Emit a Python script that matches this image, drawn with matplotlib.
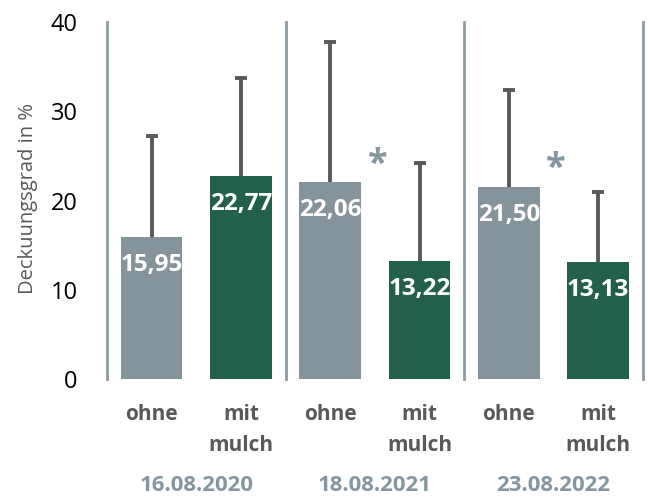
import matplotlib
matplotlib.use("Agg")
import matplotlib.pyplot as plt
import numpy as np

# Data
dates = ["16.08.2020", "18.08.2021", "23.08.2022"]
treatments = ["ohne", "mit\nmulch"]
means = [15.95, 22.77, 22.06, 13.22, 21.50, 13.13]
upper_err = [11.25, 11.0, 15.7, 11.0, 10.9, 7.8]
value_labels = ["15,95", "22,77", "22,06", "13,22", "21,50", "13,13"]
sig_groups = [1, 2]          # groups with significance asterisk
sig_y = [24.0, 23.5]

plt.rcParams['font.family'] = ['Open Sans', 'DejaVu Sans']

GRAY = "#85939a"
GREEN = "#22604c"
DARK = "#595959"
LINE = "#8d9ca4"
DATE = "#8497a0"

fig = plt.figure(figsize=(6.48, 4.97), dpi=100)
ax = fig.add_axes([0.165, 0.2374, 0.827, 0.7183])

x = np.arange(len(means))
colors = [GRAY, GREEN] * len(dates)
ax.bar(x, means, width=0.69, color=colors, zorder=2)
eb = ax.errorbar(x, means, yerr=[np.zeros(len(means)), upper_err], fmt='none',
                 ecolor=DARK, elinewidth=2.8, capsize=4.6, capthick=2.8, zorder=3)
# hide the caps sitting on the bar tops (lower error is zero)
for cap in eb[1]:
    if np.allclose(cap.get_ydata(), means):
        cap.set_visible(False)

for xi, m, lab in zip(x, means, value_labels):
    ax.annotate(lab, (xi, m), xytext=(0, -28), textcoords='offset pixels',
                ha='center', va='center', color='white', fontsize=17.5,
                fontweight='bold', zorder=4)

for g, yv in zip(sig_groups, sig_y):
    ax.text(2 * g + 0.53, yv, "*", ha='center', va='center', color=DATE,
            fontsize=26, fontweight='bold')

ax.set_xlim(-0.5, 5.5)
ax.set_ylim(0, 40)
ax.set_yticks([0, 10, 20, 30, 40])
ax.tick_params(axis='y', length=0, labelsize=17, pad=21, labelcolor='black')
ax.set_xticks(x)
ax.set_xticklabels(treatments * len(dates), fontsize=15, fontweight='bold',
                   color=DARK, linespacing=1.65)
ax.tick_params(axis='x', length=0, pad=18)

for s in ['top', 'right', 'bottom']:
    ax.spines[s].set_visible(False)
ax.spines['left'].set_color(LINE)
ax.spines['left'].set_linewidth(2)

for sep in [1.5, 3.5, 5.5]:
    ax.axvline(sep, color=LINE, lw=2, clip_on=False, zorder=1)

for i, d in enumerate(dates):
    ax.text(2 * i + 0.5, -0.298, d, transform=ax.get_xaxis_transform(),
            ha='center', va='center', fontsize=16, fontweight='bold', color=DATE)

fig.text(0.043, 0.6, "Deckuungsgrad in %", rotation=90, ha='center', va='center',
         fontsize=14.5, color=DARK)

fig.savefig("out.png", dpi=100)
